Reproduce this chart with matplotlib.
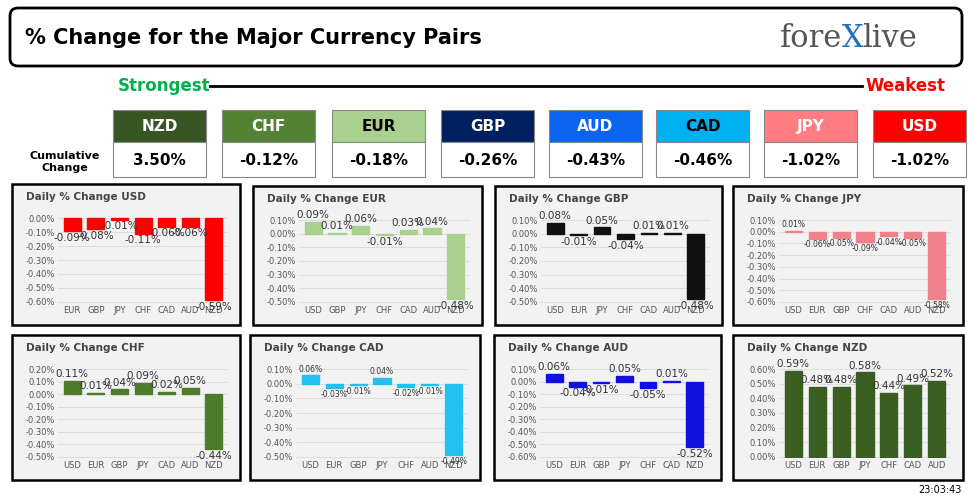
import matplotlib
matplotlib.use("Agg")
import matplotlib.pyplot as plt
from matplotlib.patches import FancyBboxPatch, Rectangle

W, H = 975, 498
currencies = ["NZD", "CHF", "EUR", "GBP", "AUD", "CAD", "JPY", "USD"]
cumulative = [3.50, -0.12, -0.18, -0.26, -0.43, -0.46, -1.02, -1.02]
head_colors = ["#375623", "#548235", "#a9d08e", "#002060", "#0a64f0", "#00b0f0", "#ff7c80", "#ff0000"]
head_text = ["white", "white", "black", "white", "white", "black", "white", "white"]

usd_cats = ["EUR", "GBP", "JPY", "CHF", "CAD", "AUD", "NZD"]
usd_vals = [-0.09, -0.08, -0.01, -0.11, -0.06, -0.06, -0.59]
eur_cats = ["USD", "GBP", "JPY", "CHF", "CAD", "AUD", "NZD"]
eur_vals = [0.09, 0.01, 0.06, -0.01, 0.03, 0.04, -0.48]
gbp_cats = ["USD", "EUR", "JPY", "CHF", "CAD", "AUD", "NZD"]
gbp_vals = [0.08, -0.01, 0.05, -0.04, 0.01, 0.01, -0.48]
jpy_cats = ["USD", "EUR", "GBP", "CHF", "CAD", "AUD", "NZD"]
jpy_vals = [0.01, -0.06, -0.05, -0.09, -0.04, -0.05, -0.58]
chf_cats = ["USD", "EUR", "GBP", "JPY", "CAD", "AUD", "NZD"]
chf_vals = [0.11, 0.01, 0.04, 0.09, 0.02, 0.05, -0.44]
cad_cats = ["USD", "EUR", "GBP", "JPY", "CHF", "AUD", "NZD"]
cad_vals = [0.06, -0.03, -0.01, 0.04, -0.02, -0.01, -0.49]
aud_cats = ["USD", "EUR", "GBP", "JPY", "CHF", "CAD", "NZD"]
aud_vals = [0.06, -0.04, -0.01, 0.05, -0.05, 0.01, -0.52]
nzd_cats = ["USD", "EUR", "GBP", "JPY", "CHF", "CAD", "AUD"]
nzd_vals = [0.59, 0.48, 0.48, 0.58, 0.44, 0.49, 0.52]

fig = plt.figure(figsize=(W/100, H/100), dpi=100)
bg = fig.add_axes([0, 0, 1, 1])
bg.set_xlim(0, W); bg.set_ylim(H, 0); bg.axis("off")

bg.add_patch(FancyBboxPatch((10, 8), 952, 58, boxstyle="round,pad=0,rounding_size=8",
                            fc="white", ec="black", lw=2))
bg.text(25, 38, "% Change for the Major Currency Pairs", fontsize=15, fontweight="bold",
        va="center", ha="left")
bg.text(780, 38, "fore", fontsize=22, family="DejaVu Serif", color="#555555", va="center")
bg.text(842, 38, "X", fontsize=22, family="DejaVu Serif", color="#1f6fc0", va="center")
bg.text(862, 38, "live", fontsize=22, family="DejaVu Serif", color="#555555", va="center")

bg.text(118, 86, "Strongest", fontsize=12, fontweight="bold", color="#00b050", va="center")
bg.plot([210, 862], [86, 86], color="black", lw=2)
bg.text(945, 86, "Weakest", fontsize=12, fontweight="bold", color="#ff0000", va="center", ha="right")
bg.text(65, 162, "Cumulative\nChange", fontsize=8, fontweight="bold", ha="center", va="center")

xs = [113, 222, 332, 441, 549, 656, 764, 873]
for x, c, v, col, tc in zip(xs, currencies, cumulative, head_colors, head_text):
    bg.add_patch(Rectangle((x, 110), 93, 32, fc=col, ec="#888888", lw=0.8))
    bg.text(x + 46.5, 126, c, color=tc, fontsize=11, fontweight="bold", ha="center", va="center")
    bg.add_patch(Rectangle((x, 142), 93, 35, fc="white", ec="#888888", lw=0.8))
    bg.text(x + 46.5, 160, f"{v:.2f}%", fontsize=11, fontweight="bold", ha="center", va="center")

bg.text(962, 490, "23:03:43", fontsize=7, ha="right", va="center")

panels = [
    ((12, 184, 240, 325), "USD", usd_cats, usd_vals, "#ff0000", (-0.60, 0.00), 0.10, 7.5),
    ((253, 186, 482, 325), "EUR", eur_cats, eur_vals, "#a9d08e", (-0.50, 0.10), 0.10, 7.5),
    ((495, 186, 722, 325), "GBP", gbp_cats, gbp_vals, "#111111", (-0.50, 0.10), 0.10, 7.5),
    ((733, 186, 963, 325), "JPY", jpy_cats, jpy_vals, "#f0808a", (-0.60, 0.10), 0.10, 5.5),
    ((12, 335, 240, 480), "CHF", chf_cats, chf_vals, "#4e7a2c", (-0.50, 0.20), 0.10, 7.5),
    ((250, 335, 480, 480), "CAD", cad_cats, cad_vals, "#22c0ef", (-0.50, 0.10), 0.10, 5.5),
    ((494, 335, 721, 480), "AUD", aud_cats, aud_vals, "#1010e0", (-0.60, 0.10), 0.10, 7.5),
    ((733, 335, 963, 480), "NZD", nzd_cats, nzd_vals, "#3a5e22", (0.00, 0.60), 0.10, 7.5),
]

for (x0, y0, x1, y1), name, cats, vals, col, (lo, hi), step, fs in panels:
    bg.add_patch(Rectangle((x0, y0), x1 - x0, y1 - y0, fc="#f2f2f2", ec="black", lw=1.8))
    bg.text(x0 + 14, y0 + 13, f"Daily % Change {name}", fontsize=7.5, fontweight="bold",
            color="#444444", va="center")
    ax_l, ax_r = x0 + 46, x1 - 12
    ax_t, ax_b = y0 + 33, y1 - 22
    ax = fig.add_axes([ax_l / W, 1 - ax_b / H, (ax_r - ax_l) / W, (ax_b - ax_t) / H])
    ax.patch.set_alpha(0)
    x = range(len(cats))
    ax.bar(x, vals, width=0.72, color=col, edgecolor=col, zorder=3)
    ticks = []
    t = lo
    while t <= hi + 1e-9:
        ticks.append(round(t, 2) + 0.0); t += step
    ax.set_yticks(ticks)
    ax.set_yticklabels([f"{abs(t):.2f}%" if abs(t) < 1e-9 else f"{t:.2f}%" for t in ticks],
                       fontsize=6, color="#555555")
    ax.set_ylim(lo - 0.01, hi + 0.01)
    ax.set_xticks(list(x))
    ax.set_xticklabels(cats, fontsize=6, color="#555555")
    ax.set_xlim(-0.6, len(cats) - 0.4)
    ax.grid(axis="y", color="#d9d9d9", lw=0.6, zorder=0)
    for s in ax.spines.values():
        s.set_visible(False)
    ax.tick_params(length=0, pad=2)
    span = hi - lo
    for i, v in enumerate(vals):
        if v >= 0:
            ax.text(i, v + span * 0.02, f"{v:.2f}%", ha="center", va="bottom", fontsize=fs, color="#333333", zorder=4)
        else:
            ax.text(i, v - span * 0.02, f"{v:.2f}%", ha="center", va="top", fontsize=fs, color="#333333", zorder=4)

fig.savefig("out.png", dpi=100)
